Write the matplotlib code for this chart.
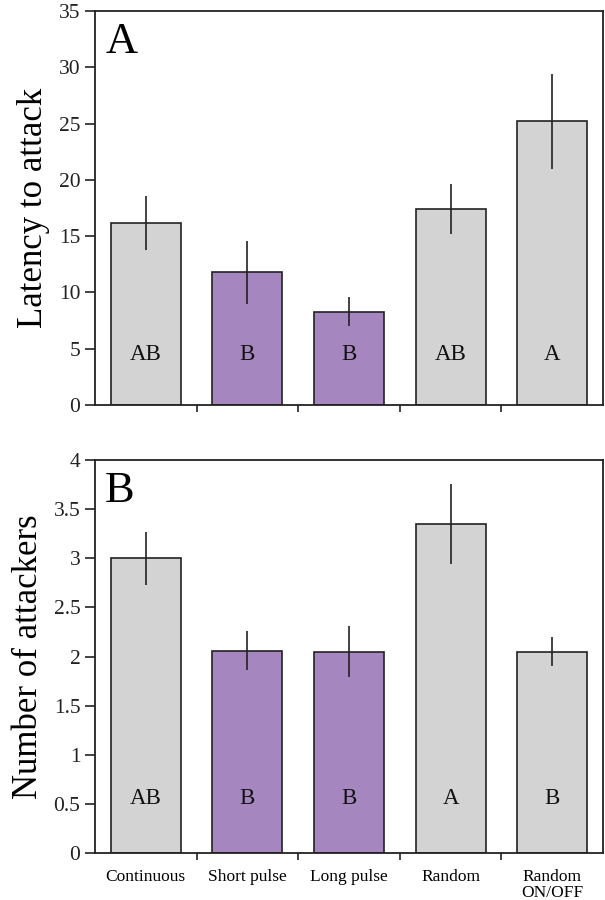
import numpy as np
import matplotlib
matplotlib.use('Agg')
import matplotlib.pyplot as plt

plt.rcParams['font.family'] = ['Liberation Serif', 'DejaVu Serif']

# data
categories = ['Continuous', 'Short pulse', 'Long pulse', 'Random', 'Random\nON/OFF']
latency = [16.2, 11.8, 8.3, 17.4, 25.2]
latency_err = [2.4, 2.8, 1.3, 2.2, 4.2]
latency_groups = ['AB', 'B', 'B', 'AB', 'A']
attackers = [3.0, 2.06, 2.05, 3.35, 2.05]
attackers_err = [0.27, 0.2, 0.26, 0.41, 0.15]
attackers_groups = ['AB', 'B', 'B', 'A', 'B']

gray = '#d3d3d3'
purple = '#a686bf'
colors = [gray, purple, purple, gray, gray]

fig = plt.figure(figsize=(6.05, 9), dpi=100)
ax1 = fig.add_axes([95/605, 495/900, 508/605, 394/900])
ax2 = fig.add_axes([95/605, 47/900, 508/605, 393/900])

x = np.arange(len(categories))


def draw_panel(ax, vals, errs, groups, ymax, step, letter_y, ylabel, panel, fmt):
    ax.bar(x, vals, width=0.69, color=colors, edgecolor='#222222', linewidth=1.2, zorder=2)
    ax.errorbar(x, vals, yerr=errs, fmt='none', ecolor='#222222', elinewidth=1.2, capsize=0, zorder=3)
    for xi, g in zip(x, groups):
        ax.text(xi, letter_y, g, ha='center', va='center', fontsize=16.5, color='#111111', zorder=4)
    ax.set_xlim(-0.5, len(categories) - 0.5)
    ax.set_ylim(0, ymax)
    ticks = np.arange(0, ymax + step / 2, step)
    ax.set_yticks(ticks)
    ax.set_yticklabels([fmt(t) for t in ticks], fontsize=15.5)
    ax.set_xticks(np.arange(0.5, len(categories) - 0.5, 1))
    ax.set_xticklabels([])
    ax.tick_params(axis='both', direction='out', length=7, width=1.2, colors='#222222')
    ax.tick_params(axis='x', length=5)
    for s in ax.spines.values():
        s.set_linewidth(1.3)
        s.set_color('#222222')
    ax.set_ylabel(ylabel, fontsize=25, labelpad=6)
    ax.text(0.02, 0.972, panel, transform=ax.transAxes, fontsize=32, ha='left', va='top')


draw_panel(ax1, latency, latency_err, latency_groups, 35, 5, 4.5,
           'Latency to attack', 'A', lambda t: '%d' % t)
draw_panel(ax2, attackers, attackers_err, attackers_groups, 4, 0.5, 0.55,
           'Number of attackers', 'B', lambda t: ('%g' % t))

for xi, c in zip(x, categories):
    ax2.text(xi, -0.04, c, ha='center', va='top', fontsize=12.5, linespacing=1.05,
             transform=ax2.get_xaxis_transform())

fig.savefig('out.png', dpi=100)
